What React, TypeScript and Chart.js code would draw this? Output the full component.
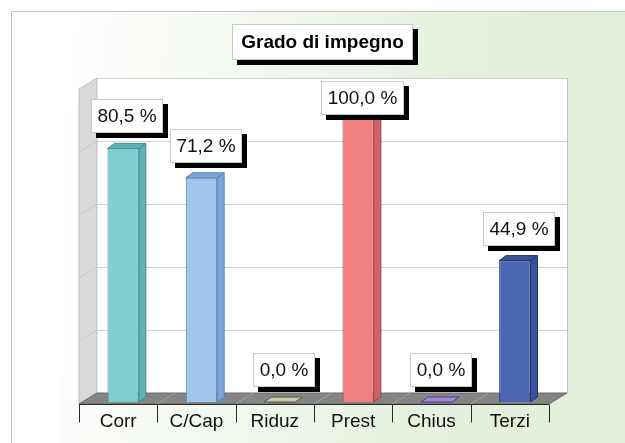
import React, { useEffect, useRef } from "react";
import { Chart, registerables } from "chart.js";

Chart.register(...registerables);

const titleText = "Grado di impegno";
const categories = ["Corr", "C/Cap", "Riduz", "Prest", "Chius", "Terzi"];
const values = [80.5, 71.2, 0, 100, 0, 44.9];
const valueLabels = ["80,5 %", "71,2 %", "0,0 %", "100,0 %", "0,0 %", "44,9 %"];
const gridTicks = [0, 20, 40, 60, 80, 100];

const frontColors = ["#7fcfd1", "#9fc6ea", "#c9c9a7", "#f27f7f", "#a084d8", "#4a66b3"];
const sideColors = ["#5cb2b5", "#7ba5d8", "#a9a98a", "#cf6266", "#8065bd", "#3a5099"];
const edgeColors = ["#3f8f92", "#5b85b8", "#55553f", "#9e4045", "#4f3d80", "#23366e"];

const FONT = '"Liberation Sans", Arial, sans-serif';
const BAR_D = { dx: 7, dy: 5 };
const FRONT = { dx: -5, dy: 2 };
const BACK = { dx: 13, dy: -9 };

const decorPlugin = {
  id: "decor3d",
  beforeDraw(chart: any) {
    const ctx = chart.ctx;
    const W = chart.width;
    const H = chart.height;
    ctx.save();
    ctx.fillStyle = "#ffffff";
    ctx.fillRect(0, 0, W, H);
    const g = ctx.createLinearGradient(62, 0, W, 60);
    g.addColorStop(0, "#ffffff");
    g.addColorStop(0.7, "#e6f1df");
    g.addColorStop(1, "#e2efda");
    ctx.fillStyle = g;
    ctx.fillRect(62, 11, W - 62, H - 11);
    ctx.strokeStyle = "#c4c4c4";
    ctx.lineWidth = 1;
    ctx.beginPath();
    ctx.moveTo(11.5, H);
    ctx.lineTo(11.5, 11.5);
    ctx.lineTo(W, 11.5);
    ctx.stroke();
    ctx.restore();
  },
  beforeDatasetsDraw(chart: any) {
    const ctx = chart.ctx;
    const { left: L, right: R } = chart.chartArea;
    const y = chart.scales.y;
    const xs = chart.scales.x;
    const y0 = y.getPixelForValue(0);
    const y100 = y.getPixelForValue(100);
    ctx.save();
    // back wall
    const bl = L + BACK.dx, br = R + BACK.dx;
    const bt = y100 + BACK.dy, bb = y0 + BACK.dy;
    ctx.fillStyle = "#ffffff";
    ctx.fillRect(bl, bt, br - bl, bb - bt);
    ctx.strokeStyle = "#d2d2d2";
    ctx.lineWidth = 1;
    gridTicks.forEach((v) => {
      const yy = Math.round(y.getPixelForValue(v) + BACK.dy) + 0.5;
      ctx.beginPath();
      ctx.moveTo(bl, yy);
      ctx.lineTo(br, yy);
      ctx.stroke();
    });
    ctx.strokeStyle = "#c4c4c4";
    ctx.beginPath();
    ctx.moveTo(Math.round(br) + 0.5, bt);
    ctx.lineTo(Math.round(br) + 0.5, bb);
    ctx.stroke();
    // left wall
    const fl = L + FRONT.dx;
    const fr = R + FRONT.dx;
    ctx.fillStyle = "#d9d9d9";
    ctx.beginPath();
    ctx.moveTo(fl, y100 + FRONT.dy);
    ctx.lineTo(bl, bt);
    ctx.lineTo(bl, bb);
    ctx.lineTo(fl, y0 + FRONT.dy);
    ctx.closePath();
    ctx.fill();
    ctx.strokeStyle = "#bfbfbf";
    ctx.stroke();
    ctx.strokeStyle = "#c9c9c9";
    gridTicks.slice(1, -1).forEach((v) => {
      const yp = y.getPixelForValue(v);
      ctx.beginPath();
      ctx.moveTo(fl, yp + FRONT.dy);
      ctx.lineTo(bl, yp + BACK.dy);
      ctx.stroke();
    });
    // floor
    ctx.fillStyle = "#858585";
    ctx.beginPath();
    ctx.moveTo(fl, y0 + FRONT.dy);
    ctx.lineTo(bl, bb);
    ctx.lineTo(br, bb);
    ctx.lineTo(fr, y0 + FRONT.dy);
    ctx.closePath();
    ctx.fill();
    ctx.strokeStyle = "#6a6a6a";
    ctx.stroke();
    const catW = (R - L) / categories.length;
    ctx.strokeStyle = "#a3a3a3";
    for (let k = 1; k < categories.length; k++) {
      const xk = fl + k * catW;
      ctx.beginPath();
      ctx.moveTo(xk, y0 + FRONT.dy);
      ctx.lineTo(xk + (BACK.dx - FRONT.dx), bb);
      ctx.stroke();
    }
    // front edge + ticks
    ctx.strokeStyle = "#2a2a2a";
    const fy = Math.round(y0 + FRONT.dy) + 0.5;
    ctx.beginPath();
    ctx.moveTo(fl, fy);
    ctx.lineTo(fr, fy);
    ctx.stroke();
    for (let k = 0; k <= categories.length; k++) {
      const xk = Math.round(fl + k * catW) + 0.5;
      ctx.beginPath();
      ctx.moveTo(xk, fy);
      ctx.lineTo(xk, fy + 18);
      ctx.stroke();
    }
    ctx.restore();
    void xs;
  },
  afterDatasetsDraw(chart: any) {
    const ctx = chart.ctx;
    const meta = chart.getDatasetMeta(0);
    ctx.save();
    meta.data.forEach((bar: any, i: number) => {
      const { x, y: top, base, width } = bar.getProps(["x", "y", "base", "width"], true);
      const l = x - width / 2;
      const r = x + width / 2;
      ctx.lineWidth = 1;
      ctx.strokeStyle = edgeColors[i];
      if (base - top > 0.5) {
        ctx.fillStyle = sideColors[i];
        ctx.beginPath();
        ctx.moveTo(r, top);
        ctx.lineTo(r + BAR_D.dx, top - BAR_D.dy);
        ctx.lineTo(r + BAR_D.dx, base - BAR_D.dy);
        ctx.lineTo(r, base);
        ctx.closePath();
        ctx.fill();
        ctx.stroke();
      }
      ctx.fillStyle = base - top > 0.5 ? sideColors[i] : frontColors[i];
      ctx.beginPath();
      ctx.moveTo(l, top);
      ctx.lineTo(l + BAR_D.dx, top - BAR_D.dy);
      ctx.lineTo(r + BAR_D.dx, top - BAR_D.dy);
      ctx.lineTo(r, top);
      ctx.closePath();
      ctx.fill();
      ctx.stroke();
    });
    // value labels
    ctx.font = `19px ${FONT}`;
    ctx.textAlign = "center";
    ctx.textBaseline = "middle";
    meta.data.forEach((bar: any, i: number) => {
      const { x, y: top } = bar.getProps(["x", "y"], true);
      const text = valueLabels[i];
      const tw = ctx.measureText(text).width;
      const w = Math.round(tw + 13);
      const h = 34;
      const cx = x + 4;
      const bx = Math.round(cx - w / 2);
      const by = Math.round(Math.max(81, top - 15 - h));
      ctx.fillStyle = "#000000";
      ctx.fillRect(bx + 5, by + 5, w, h);
      ctx.fillStyle = "#ffffff";
      ctx.fillRect(bx, by, w, h);
      ctx.strokeStyle = "#c8c8c8";
      ctx.strokeRect(bx + 0.5, by + 0.5, w - 1, h - 1);
      ctx.fillStyle = "#111111";
      ctx.fillText(text, bx + w / 2, by + h / 2 + 1);
    });
    // title box
    ctx.font = `bold 19px ${FONT}`;
    const tw = ctx.measureText(titleText).width;
    const tW = Math.round(tw + 18);
    const tH = 36;
    const tx = Math.round(322 - tW / 2);
    const ty = 24;
    ctx.fillStyle = "#000000";
    ctx.fillRect(tx + 5, ty + 5, tW, tH);
    ctx.fillStyle = "#ffffff";
    ctx.fillRect(tx, ty, tW, tH);
    ctx.strokeStyle = "#c8c8c8";
    ctx.strokeRect(tx + 0.5, ty + 0.5, tW - 1, tH - 1);
    ctx.fillStyle = "#000000";
    ctx.fillText(titleText, tx + tW / 2, ty + tH / 2 + 1);
    ctx.restore();
  },
};

export default function App() {
  const ref = useRef<HTMLCanvasElement | null>(null);
  useEffect(() => {
    if (!ref.current) return;
    const chart = new Chart(ref.current, {
      type: "bar",
      data: {
        labels: categories,
        datasets: [
          {
            data: values,
            backgroundColor: frontColors,
            borderColor: edgeColors,
            borderWidth: 1,
            categoryPercentage: 1,
            barPercentage: 0.4,
          },
        ],
      },
      options: {
        responsive: false,
        animation: false,
        devicePixelRatio: 1,
        layout: { padding: { left: 84, right: 71, top: 87, bottom: 0 } },
        plugins: {
          legend: { display: false },
          title: { display: false },
          tooltip: { enabled: false },
        },
        scales: {
          x: {
            grid: { display: false, drawTicks: false },
            border: { display: false },
            ticks: {
              font: { family: FONT, size: 19 },
              color: "#111111",
              padding: 8,
              labelOffset: -5,
              maxRotation: 0,
              autoSkip: false,
            },
            afterFit: (scale: any) => {
              scale.height = 41;
            },
          },
          y: {
            display: false,
            min: 0,
            max: 100,
          },
        },
      },
      plugins: [decorPlugin],
    });
    return () => chart.destroy();
  }, []);
  return (
    <div style={{ position: "fixed", left: 0, top: 0, width: 625, height: 443 }}>
      <canvas ref={ref} width={625} height={443} style={{ width: 625, height: 443, display: "block" }} />
    </div>
  );
}
